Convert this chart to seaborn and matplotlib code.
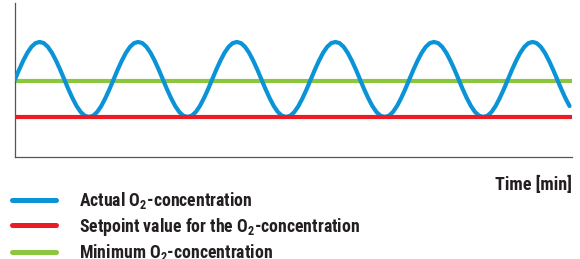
import numpy as np
import pandas as pd
import matplotlib
matplotlib.use('Agg')
import matplotlib.pyplot as plt
from matplotlib import font_manager as fm
import seaborn as sns

# one oscillation of the actual O2 curve, read every 15 degrees (normalised)
CYCLE = [0.00, 0.26, 0.50, 0.71, 0.87, 0.97, 1.00, 0.97, 0.87, 0.71, 0.50, 0.26,
         0.00, -0.26, -0.50, -0.71, -0.87, -0.97, -1.00, -0.97, -0.87, -0.71, -0.50, -0.26]
N_SAMPLES = 136
TIME_STEP = 0.25          # minutes between samples
SETPOINT = -1.00
MINIMUM = -0.04

LABELS = ['Actual O$_2$-concentration',
          'Setpoint value for the O$_2$-concentration',
          'Minimum O$_2$-concentration']
COLORS = ['#0a93d6', '#ed1c24', '#8cc63f']

actual = np.tile(CYCLE, N_SAMPLES // len(CYCLE) + 1)[:N_SAMPLES]
df = pd.DataFrame({'time': np.arange(N_SAMPLES) * TIME_STEP, 'o2': actual})

# the variable Roboto Condensed file shadows the static bold one, drop it
fm.fontManager.ttflist = [f for f in fm.fontManager.ttflist
                          if not ('RobotoCondensed' in f.fname and '[wght]' in f.fname)]
try:
    fm.fontManager._findfont_cached.cache_clear()
except AttributeError:
    pass

sns.set_theme(style='white')
plt.rcParams['font.family'] = ['Roboto Condensed', 'DejaVu Sans']
plt.rcParams['font.weight'] = 'bold'
plt.rcParams['mathtext.fontset'] = 'custom'
plt.rcParams['mathtext.bf'] = 'Roboto Condensed:bold'
plt.rcParams['mathtext.rm'] = 'Roboto Condensed:bold'
plt.rcParams['mathtext.default'] = 'bf'

FS = 12.8
TEXT_COLOR = '#231f20'

fig = plt.figure(figsize=(5.8, 2.59), dpi=100)
ax = fig.add_axes([15 / 580, 1 - 157 / 259, 557 / 580, 154 / 259])

ax.axhline(MINIMUM, color=COLORS[2], lw=3.0, label=LABELS[2], zorder=2)
sns.lineplot(data=df, x='time', y='o2', ax=ax, color=COLORS[0], lw=3.0,
             label=LABELS[0], zorder=3)
ax.axhline(SETPOINT, color=COLORS[1], lw=3.0, label=LABELS[1], zorder=4)

ax.set_xlim(0, 33.9)
ax.set_ylim(-2.07, 2.04)
ax.set_xticks([])
ax.set_yticks([])
ax.set_xlabel('')
ax.set_ylabel('')
for side in ['top', 'right']:
    ax.spines[side].set_visible(False)
for side in ['left', 'bottom']:
    ax.spines[side].set_color('#555555')
    ax.spines[side].set_linewidth(0.9)

fig.text(572 / 580, 1 - 190 / 259, 'Time [min]', ha='right', va='baseline',
         fontsize=FS + 0.3, fontweight='bold', color=TEXT_COLOR)

handles, labels = ax.get_legend_handles_labels()
order = [labels.index(l) for l in LABELS]
leg = ax.legend([handles[i] for i in order], [labels[i] for i in order],
                loc='upper left', bbox_to_anchor=(12 / 580, 1 - 190 / 259),
                bbox_transform=fig.transFigure, frameon=False, borderpad=0,
                borderaxespad=0, handlelength=2.5, handletextpad=1.28,
                labelspacing=0.26, prop={'size': FS, 'weight': 'bold'})
for line in leg.get_lines():
    line.set_linewidth(3.6)
for t in leg.get_texts():
    t.set_color(TEXT_COLOR)

fig.savefig('out.png', dpi=100)
